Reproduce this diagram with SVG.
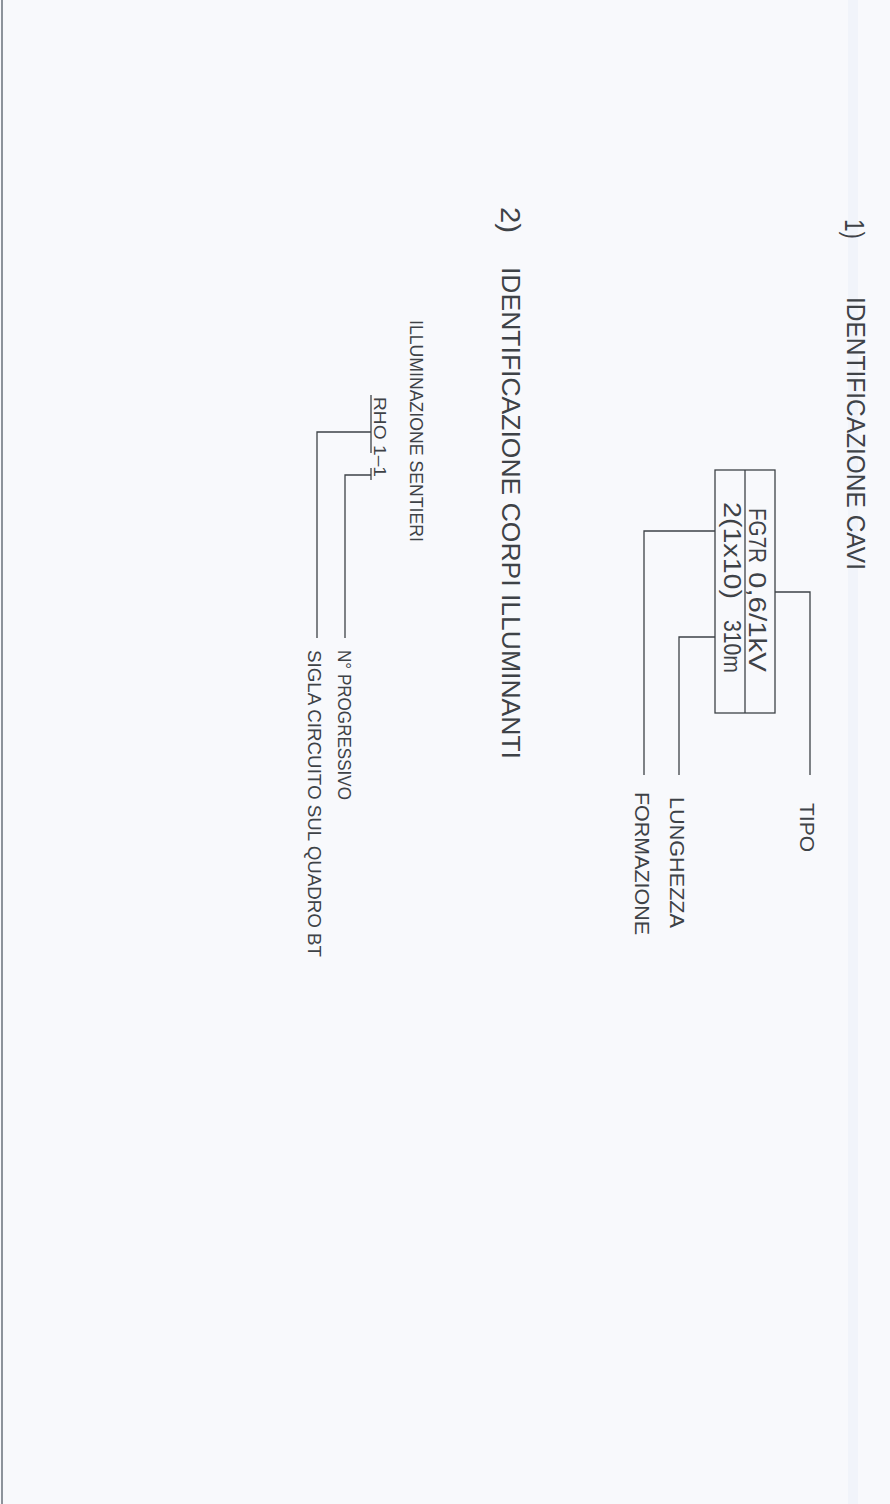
<svg xmlns="http://www.w3.org/2000/svg" width="890" height="1504" viewBox="0 0 890 1504">
<style>
.ln{stroke:#3d4247;stroke-width:1.3;fill:none}
.t{font-family:"Liberation Sans",Arial,sans-serif;fill:#3e4247}
</style>
<rect width="890" height="1504" fill="#f8f9fc"/>
<rect x="848" y="0" width="10" height="1504" fill="#f1f4fa"/>
<line x1="2" y1="0" x2="2" y2="1504" stroke="#8d939b" stroke-width="2"/>
<g id="title1">
<text class="t" font-size="28" transform="translate(845,219) rotate(90)" textLength="20" lengthAdjust="spacingAndGlyphs">1)</text>
<text class="t" font-size="26" transform="translate(847,297) rotate(90)" textLength="273" lengthAdjust="spacingAndGlyphs">IDENTIFICAZIONE  CAVI</text>
</g>
<g id="title2">
<text class="t" font-size="27" transform="translate(501,207) rotate(90)" textLength="26" lengthAdjust="spacingAndGlyphs">2)</text>
<text class="t" font-size="26" transform="translate(502,267) rotate(90)" textLength="492" lengthAdjust="spacingAndGlyphs">IDENTIFICAZIONE  CORPI  ILLUMINANTI</text>
</g>
<g id="cable-box">
<rect class="ln" x="715" y="470" width="60" height="243"/>
<line class="ln" x1="745" y1="470" x2="745" y2="713"/>
<text class="t" font-size="23" transform="translate(749,508) rotate(90)" textLength="55" lengthAdjust="spacingAndGlyphs">FG7R</text>
<text class="t" font-size="23" transform="translate(749,572) rotate(90)" textLength="100" lengthAdjust="spacingAndGlyphs">0,6/1kV</text>
<text class="t" font-size="23" transform="translate(724,502) rotate(90)" textLength="97" lengthAdjust="spacingAndGlyphs">2(1x10)</text>
<text class="t" font-size="23" transform="translate(724,620) rotate(90)" textLength="53" lengthAdjust="spacingAndGlyphs">310m</text>
</g>
<g id="label-tipo">
<text class="t" font-size="21" transform="translate(800,803) rotate(90)" textLength="49" lengthAdjust="spacingAndGlyphs">TIPO</text>
</g>
<g id="label-lunghezza">
<text class="t" font-size="21" transform="translate(670,797) rotate(90)" textLength="131" lengthAdjust="spacingAndGlyphs">LUNGHEZZA</text>
</g>
<g id="label-formazione">
<text class="t" font-size="21" transform="translate(635,792) rotate(90)" textLength="143" lengthAdjust="spacingAndGlyphs">FORMAZIONE</text>
</g>
<g id="lum-name">
<text class="t" font-size="18" transform="translate(410,320) rotate(90)" textLength="222" lengthAdjust="spacingAndGlyphs">ILLUMINAZIONE  SENTIERI</text>
</g>
<g id="lum-code">
<text class="t" font-size="17" transform="translate(374,397) rotate(90)" textLength="80" lengthAdjust="spacingAndGlyphs">RHO  1–1</text>
<line class="ln" x1="371" y1="395" x2="371" y2="453"/>
<line class="ln" x1="371" y1="468" x2="371" y2="480"/>
</g>
<g id="label-progressivo">
<text class="t" font-size="18" transform="translate(338,650) rotate(90)" textLength="150" lengthAdjust="spacingAndGlyphs">N° PROGRESSIVO</text>
</g>
<g id="label-sigla">
<text class="t" font-size="18" transform="translate(308,650) rotate(90)" textLength="307" lengthAdjust="spacingAndGlyphs">SIGLA  CIRCUITO  SUL  QUADRO  BT</text>
</g>
<g id="connectors">
<polyline class="ln" points="775,592 810,592 810,775"/>
<polyline class="ln" points="715,637 679,637 679,775"/>
<polyline class="ln" points="715,531 644,531 644,775"/>
<polyline class="ln" points="371,432 317,432 317,638"/>
<polyline class="ln" points="371,475 345,475 345,638"/>
</g>
</svg>
